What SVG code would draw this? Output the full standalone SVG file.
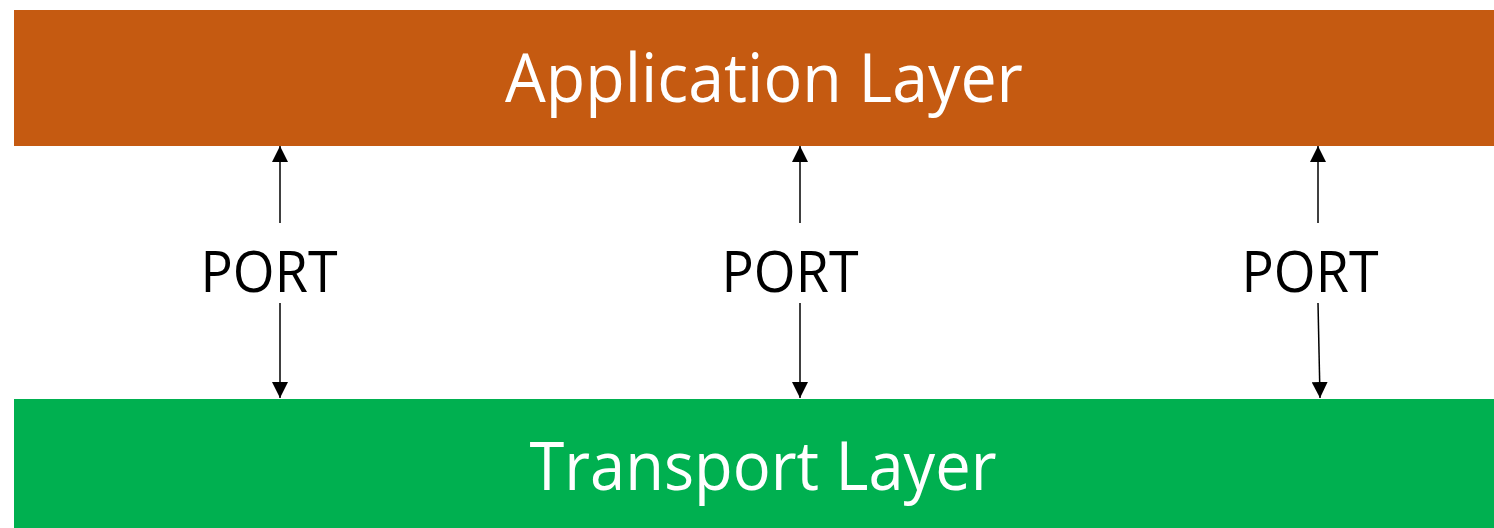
<svg xmlns="http://www.w3.org/2000/svg" width="1494" height="528" viewBox="0 0 1494 528">
  <style>
    .layer-label { font-family: "Open Sans", "Liberation Sans", sans-serif; font-size: 67px; fill: #ffffff; text-anchor: middle; }
    .port-label { font-family: "Open Sans", "Liberation Sans", sans-serif; font-size: 56px; fill: #000000; text-anchor: middle; }
    .link { stroke: #000000; stroke-width: 1.5; fill: none; marker-end: url(#arrow); }
  </style>
  <defs>
    <marker id="arrow" markerUnits="userSpaceOnUse" markerWidth="16" markerHeight="16" viewBox="0 0 16 16" refX="16" refY="8" orient="auto">
      <path d="M0,0 L16,8 L0,16 Z" fill="#000000"/>
    </marker>
  </defs>
  <rect width="1494" height="528" fill="#ffffff"/>

  <g id="application-layer">
    <rect x="14" y="10" width="1480" height="136" fill="#C55A11"/>
    <text class="layer-label" x="764" y="102" textLength="518" lengthAdjust="spacingAndGlyphs">Application Layer</text>
  </g>

  <g id="transport-layer">
    <rect x="14" y="399" width="1480" height="129" fill="#00B050"/>
    <text class="layer-label" x="763" y="490" textLength="467" lengthAdjust="spacingAndGlyphs">Transport Layer</text>
  </g>

  <g id="port-1">
    <text class="port-label" x="269" y="292" textLength="137" lengthAdjust="spacingAndGlyphs">PORT</text>
  </g>
  <g id="port-2">
    <text class="port-label" x="790" y="292" textLength="137" lengthAdjust="spacingAndGlyphs">PORT</text>
  </g>
  <g id="port-3">
    <text class="port-label" x="1310" y="292" textLength="137" lengthAdjust="spacingAndGlyphs">PORT</text>
  </g>

  <g id="connectors">
    <line class="link" x1="280" y1="223" x2="280" y2="146"/>
    <line class="link" x1="280" y1="303" x2="280" y2="398"/>
    <line class="link" x1="800" y1="223" x2="800" y2="146"/>
    <line class="link" x1="800" y1="303" x2="800" y2="398"/>
    <line class="link" x1="1318" y1="223" x2="1318" y2="146"/>
    <line class="link" x1="1318" y1="303" x2="1320" y2="398"/>
  </g>
</svg>
